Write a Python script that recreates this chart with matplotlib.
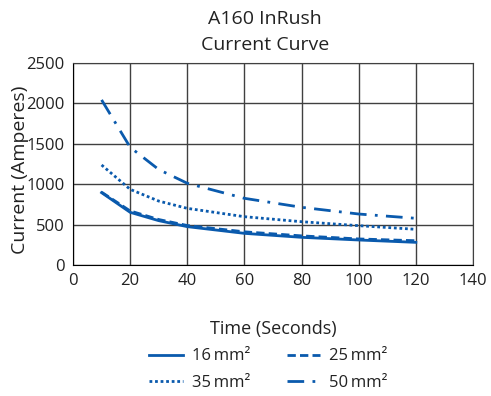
import matplotlib.pyplot as plt

plt.rcParams['font.family'] = ['Open Sans', 'DejaVu Sans']

time_s = [10, 20, 30, 40, 60, 80, 100, 120]
amps_16 = [894, 651, 548, 474, 391, 342, 309, 280]
amps_25 = [900, 668, 562, 488, 410, 360, 322, 300]
amps_35 = [1236, 935, 790, 700, 597, 535, 486, 441]
amps_50 = [2040, 1455, 1180, 1010, 824, 713, 630, 577]

labels = ["16\u2009mm\u00b2", "25\u2009mm\u00b2", "35\u2009mm\u00b2", "50\u2009mm\u00b2"]
blue = "#0a5aad"
text_col = "#222222"

fig = plt.figure(figsize=(4.91, 3.96), dpi=100)
ax = fig.add_axes([0.1487, 0.3308, 0.8146, 0.5109])

l16, = ax.plot(time_s, amps_16, color=blue, lw=2.0, ls="-")
l25, = ax.plot(time_s, amps_25, color=blue, lw=2.0, ls=(0, (3, 1.5)))
l35, = ax.plot(time_s, amps_35, color=blue, lw=2.0, ls=(0, (1, 1)))
l50, = ax.plot(time_s, amps_50, color=blue, lw=2.0, ls=(0, (6, 3, 1, 3)))

ax.set_xlim(0, 140)
ax.set_ylim(0, 2500)
ax.set_xticks(range(0, 141, 20))
ax.set_yticks(range(0, 2501, 500))
ax.grid(True, color="#404040", lw=1)
ax.set_axisbelow(True)
for s in ax.spines.values():
    s.set_color("#404040")
ax.spines["left"].set_color("black")
ax.spines["bottom"].set_color("black")
ax.tick_params(length=0, labelsize=12, colors=text_col, pad=6)

ax.set_title("A160 InRush\nCurrent Curve", fontsize=14, color=text_col, pad=9,
             linespacing=1.55, x=0.48)
ax.set_xlabel("Time (Seconds)", fontsize=13, color=text_col, labelpad=22)
ax.set_ylabel("Current (Amperes)", fontsize=14, color=text_col)
ax.yaxis.set_label_coords(-0.11, 0.47)

# row-wise legend: 16, 25 / 35, 50
fig.legend([l16, l35, l25, l50], [labels[0], labels[2], labels[1], labels[3]],
           loc="center", ncol=2, frameon=False,
           bbox_to_anchor=(0.547, 0.066), fontsize=12, handlelength=2.0,
           columnspacing=2.2, labelspacing=0.65, handletextpad=0.55,
           labelcolor=text_col)

fig.savefig("out.png", dpi=100)
